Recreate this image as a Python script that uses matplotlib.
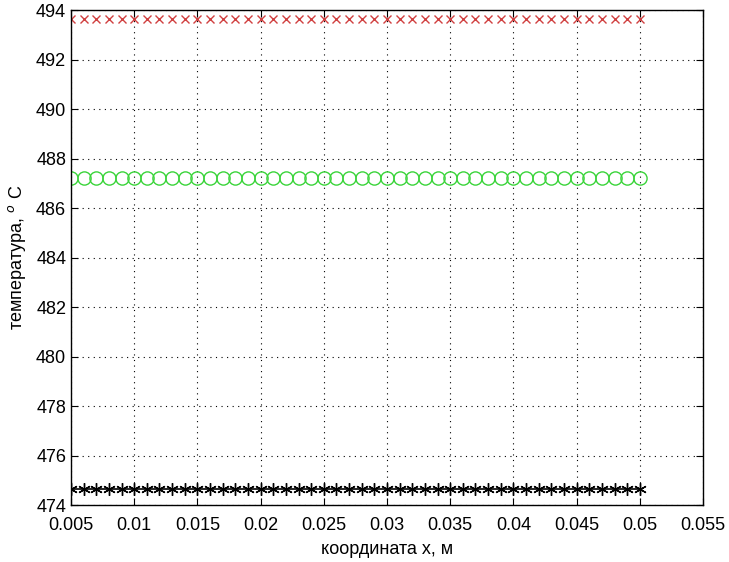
import numpy as np
import matplotlib
matplotlib.use("Agg")
import matplotlib.pyplot as plt

# координаты узлов, м
x_coord = [0.005, 0.006, 0.007, 0.008, 0.009, 0.010, 0.011, 0.012, 0.013, 0.014,
           0.015, 0.016, 0.017, 0.018, 0.019, 0.020, 0.021, 0.022, 0.023, 0.024,
           0.025, 0.026, 0.027, 0.028, 0.029, 0.030, 0.031, 0.032, 0.033, 0.034,
           0.035, 0.036, 0.037, 0.038, 0.039, 0.040, 0.041, 0.042, 0.043, 0.044,
           0.045, 0.046, 0.047, 0.048, 0.049, 0.050]
# температуры (постоянные по x)
temp_red = [493.65] * len(x_coord)
temp_green = [487.2] * len(x_coord)
temp_black = [474.65] * len(x_coord)

xticks = [0.005, 0.01, 0.015, 0.02, 0.025, 0.03, 0.035, 0.04, 0.045, 0.05, 0.055]
xtick_labels = ['0.005', '0.01', '0.015', '0.02', '0.025', '0.03', '0.035',
                '0.04', '0.045', '0.05', '0.055']
yticks = [474, 476, 478, 480, 482, 484, 486, 488, 490, 492, 494]

plt.rcParams['font.family'] = ['Liberation Sans', 'DejaVu Sans']

fig = plt.figure(figsize=(7.29, 5.62), dpi=100)
ax = fig.add_axes([71 / 729, 1 - 505 / 562, (703 - 71) / 729, (505 - 10) / 562])

ax.plot(x_coord, temp_red, 'x', color='#d04040', ms=6, mew=1.0, ls='none')
ax.plot(x_coord, temp_green, 'o', color='#3ad43a', mfc='none', ms=9.5, mew=1.0, ls='none')
# asterisk marker like MATLAB '*' (vertical arm + two diagonals)
ax.plot(x_coord, temp_black, '-', marker=(6, 2, 0), color='black', ms=9, mew=1.0, lw=1.2)

ax.set_xlim(0.005, 0.055)
ax.set_ylim(474, 494)
ax.set_xticks(xticks)
ax.set_xticklabels(xtick_labels)
ax.set_yticks(yticks)
ax.grid(True, color='black', linestyle=(0, (1, 4)), linewidth=0.8)
ax.tick_params(direction='in', top=True, right=True, length=5, labelsize=13, width=0.8)
ax.tick_params(axis='x', pad=9)
for s in ax.spines.values():
    s.set_linewidth(1.0)

ax.set_xlabel('координата x, м', fontsize=13, labelpad=5)
ax.set_ylabel('температура, $^o$ C', fontsize=13, labelpad=6)

fig.savefig('out.png', dpi=100)
